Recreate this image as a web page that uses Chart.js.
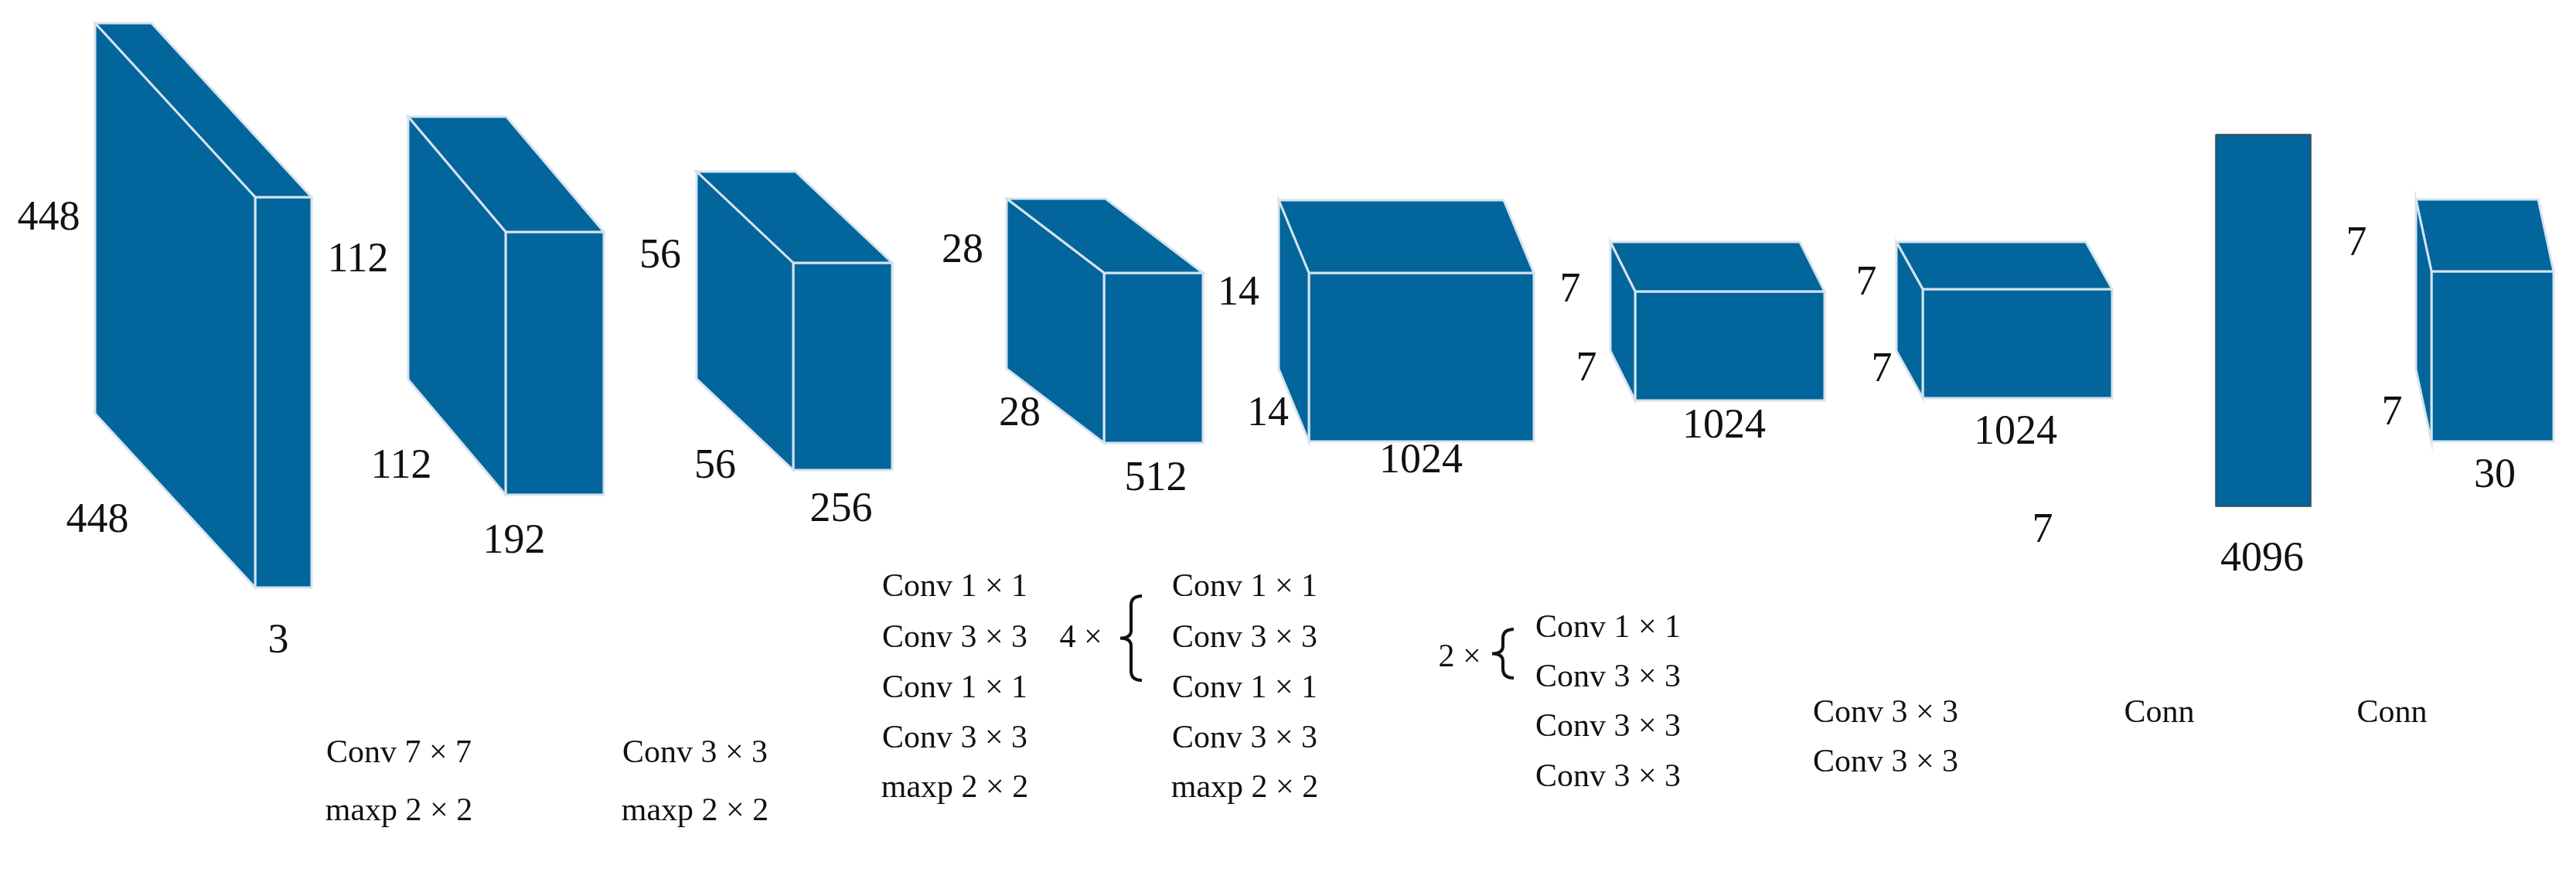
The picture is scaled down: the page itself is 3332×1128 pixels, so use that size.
<!DOCTYPE html>
<html><head><meta charset="utf-8">
<script src="https://cdn.jsdelivr.net/npm/chart.js@4.4.1/dist/chart.umd.min.js"></script>
<style>html,body{margin:0;padding:0;background:#fff}#w{width:3332px;height:1128px}</style>
</head><body><div id="w"><canvas id="c"></canvas></div>
<script>
// Layer blocks (front face box + depth offset)
const blockNames = ['input','conv1','conv2','conv3','conv4','conv5','conv6','fc1','out'];
const frontX0 = [330, 654, 1026, 1428, 1693, 2115, 2487, 2866, 3145];
const frontX1 = [403, 781, 1154, 1556, 1984, 2360, 2732, 2989, 3303];
const frontY0 = [255, 300, 340, 353, 353, 377, 374, 174, 351];
const frontY1 = [760, 640, 608, 573, 571, 518, 515, 655, 571];
const depthX  = [-207,-126,-125,-126,-39,-32,-34, 0, -20];
const depthY  = [-225,-149,-118,-96,-94,-64,-61, 0, -93];

// Dimension labels
const dimText = ['448','448','3','112','112','192','56','56','256','28','28','512','14','14','1024','7','7','1024','7','7','1024','7','4096','7','7','30'];
const dimX    = [63,126,360,463,519,665,854,925,1088,1245,1319,1495,1602,1640,1838,2031,2052,2230,2414,2434,2607,2642,2926,3048,3094,3227];
const dimY    = [283,674,830,337,604,701,332,604,660,325,536,620,380,536,597,376,478,552,367,479,560,687,724,316,535,616];

// Operation labels
const opText = ['Conv 7 × 7','maxp 2 × 2','Conv 3 × 3','maxp 2 × 2',
  'Conv 1 × 1','Conv 3 × 3','Conv 1 × 1','Conv 3 × 3','maxp 2 × 2',
  'Conv 1 × 1','Conv 3 × 3','Conv 1 × 1','Conv 3 × 3','maxp 2 × 2',
  'Conv 1 × 1','Conv 3 × 3','Conv 3 × 3','Conv 3 × 3',
  'Conv 3 × 3','Conv 3 × 3','Conn','Conn','4 ×','2 ×'];
const opX = [516,516,899,899, 1235,1235,1235,1235,1235, 1610,1610,1610,1610,1610, 2080,2080,2080,2080, 2439,2439, 2793,3094, 1398,1888];
const opY = [975,1050,975,1050, 760,826,891,956,1020, 760,826,891,956,1020, 813,877,941,1006, 923,987, 923,923, 826,851];
// Braces: x, top y, bottom y
const braceX = [1463, 1944];
const braceTop = [771, 814];
const braceBot = [880, 877];

const FILL = '#02659b', EDGE = '#d6e3ee';
const datasets = [];
for (let i = 0; i < blockNames.length; i++) {
  const x0 = frontX0[i], x1 = frontX1[i], y0 = frontY0[i], y1 = frontY1[i], dx = depthX[i], dy = depthY[i];
  const faces = [];
  if (dx !== 0 || dy !== 0) {
    faces.push([[x0,y0],[x0+dx,y0+dy],[x0+dx,y1+dy],[x0,y1],[x0,y0]]);
    faces.push([[x0,y0],[x0+dx,y0+dy],[x1+dx,y0+dy],[x1,y0],[x0,y0]]);
  }
  faces.push([[x0,y0],[x1,y0],[x1,y1],[x0,y1],[x0,y0]]);
  faces.forEach(f => datasets.push({
    data: f.map(p => ({x:p[0], y:p[1]})),
    showLine: true, fill: 'shape', backgroundColor: FILL,
    borderColor: (dx===0 && dy===0) ? '#444' : EDGE, borderWidth: (dx===0&&dy===0)?1.5:3,
    pointRadius: 0, tension: 0
  }));
}

const textPlugin = {
  id: 'texts',
  afterDatasetsDraw(chart) {
    const {ctx, scales:{x, y}} = chart;
    ctx.save();
    ctx.fillStyle = '#111';
    ctx.textAlign = 'center'; ctx.textBaseline = 'middle';
    ctx.font = '54px "Liberation Serif", "DejaVu Serif", serif';
    dimText.forEach((t,i) => ctx.fillText(t, x.getPixelForValue(dimX[i]), y.getPixelForValue(dimY[i])));
    ctx.font = '42px "Liberation Serif", "DejaVu Serif", serif';
    opText.forEach((t,i) => ctx.fillText(t, x.getPixelForValue(opX[i]), y.getPixelForValue(opY[i])));
    // braces
    ctx.strokeStyle = '#111'; ctx.lineWidth = 4;
    braceX.forEach((bx,i) => {
      const px = x.getPixelForValue(bx), t = y.getPixelForValue(braceTop[i]), b = y.getPixelForValue(braceBot[i]);
      const m = (t+b)/2, w = 14;
      ctx.beginPath();
      ctx.moveTo(px + w, t);
      ctx.quadraticCurveTo(px, t, px, t + 12);
      ctx.lineTo(px, m - 10);
      ctx.quadraticCurveTo(px, m, px - w, m);
      ctx.quadraticCurveTo(px, m, px, m + 10);
      ctx.lineTo(px, b - 12);
      ctx.quadraticCurveTo(px, b, px + w, b);
      ctx.stroke();
    });
    ctx.restore();
  }
};

new Chart(document.getElementById('c'), {
  type: 'scatter',
  data: { datasets },
  options: {
    responsive: true, maintainAspectRatio: false, animation: false,
    layout: { padding: 0 },
    plugins: { legend: { display: false }, tooltip: { enabled: false } },
    scales: {
      x: { type: 'linear', min: 0, max: 3332, display: false },
      y: { type: 'linear', min: 0, max: 1128, reverse: true, display: false }
    }
  },
  plugins: [textPlugin]
});
</script></body></html>
